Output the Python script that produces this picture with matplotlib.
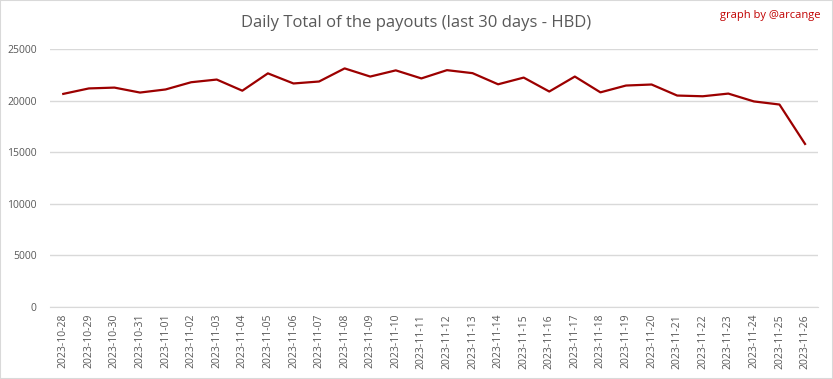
import matplotlib.pyplot as plt
from matplotlib.patches import Rectangle

# dates and daily payout totals (HBD)
dates = ["2023-10-28", "2023-10-29", "2023-10-30", "2023-10-31", "2023-11-01",
         "2023-11-02", "2023-11-03", "2023-11-04", "2023-11-05", "2023-11-06",
         "2023-11-07", "2023-11-08", "2023-11-09", "2023-11-10", "2023-11-11",
         "2023-11-12", "2023-11-13", "2023-11-14", "2023-11-15", "2023-11-16",
         "2023-11-17", "2023-11-18", "2023-11-19", "2023-11-20", "2023-11-21",
         "2023-11-22", "2023-11-23", "2023-11-24", "2023-11-25", "2023-11-26"]
payouts = [20650, 21180, 21260, 20780, 21080, 21780, 22040, 20960, 22640, 21660,
           21850, 23120, 22330, 22930, 22150, 22950, 22660, 21580, 22230, 20880,
           22330, 20800, 21460, 21560, 20490, 20420, 20680, 19920, 19620, 15800]

plt.rcParams['font.family'] = ['Open Sans', 'DejaVu Sans']

fig = plt.figure(figsize=(8.33, 3.79), dpi=100)
ax = fig.add_axes([0.0606, 0.19, 0.9212, 0.6807])

x = list(range(len(dates)))
ax.plot(x, payouts, color='#9c0000', linewidth=1.6)

ax.set_xlim(-0.5, len(dates) - 0.5)
ax.set_ylim(0, 25000)
ax.set_yticks([0, 5000, 10000, 15000, 20000, 25000])
ax.set_xticks(x)
ax.set_xticklabels(dates, rotation=90)
ax.tick_params(axis='both', length=0, labelsize=7.5, colors='#595959')
ax.tick_params(axis='y', pad=10)
ax.tick_params(axis='x', pad=5)
ax.grid(axis='y', color='#d9d9d9', linewidth=1)
ax.set_axisbelow(True)
for s in ['top', 'right', 'left']:
    ax.spines[s].set_visible(False)
ax.spines['bottom'].set_color('#d9d9d9')

fig.text(0.5, 0.94, 'Daily Total of the payouts (last 30 days - HBD)',
         ha='center', va='center', fontsize=12, color='#595959')
fig.text(0.985, 0.96, 'graph by @arcange', ha='right', va='center',
         fontsize=8, color='#c00000')

fig.patches.append(Rectangle((0, 0), 1, 1, transform=fig.transFigure,
                             fill=False, edgecolor='#d9d9d9', linewidth=1.5))

fig.savefig('out.png', dpi=100)
